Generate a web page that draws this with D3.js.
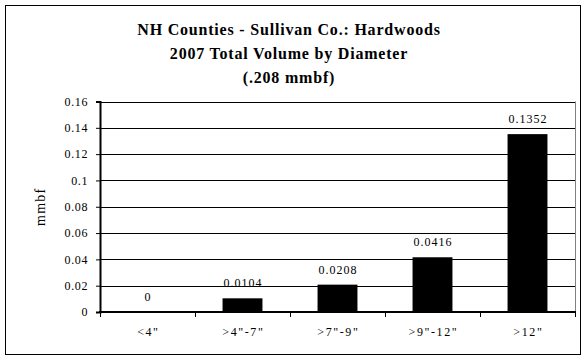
<!DOCTYPE html>
<html><head><meta charset="utf-8">
<script src="https://cdn.jsdelivr.net/npm/d3@7"></script>
<style>body{margin:0;background:#fff}svg{display:block}</style>
</head><body><svg id="c" width="585" height="360"></svg>
<script>
const categories = ['<4"', '>4"-7"', '>7"-9"', '>9"-12"', '>12"'];
const values = [0, 0.0104, 0.0208, 0.0416, 0.1352];
const labels = ["0", "0.0104", "0.0208", "0.0416", "0.1352"];
const yTicks = [0, 0.02, 0.04, 0.06, 0.08, 0.1, 0.12, 0.14, 0.16];
const titleLines = ["NH Counties - Sullivan Co.: Hardwoods", "2007 Total Volume by Diameter", "(.208 mmbf)"];

const svg = d3.select("#c");
const font = "'Liberation Serif', 'Times New Roman', serif";
svg.append("rect").attr("x", 5.5).attr("y", 5.5).attr("width", 575).attr("height", 349)
  .attr("fill", "#fff").attr("stroke", "#000").attr("stroke-width", 1);

const m = {l: 100, r: 575, t: 101.5, b: 312};
const x = d3.scaleBand().domain(categories).range([m.l, m.r]).paddingInner(0.58).paddingOuter(0.29);
const xb = d3.scalePoint().domain(d3.range(categories.length + 1)).range([m.l, m.r]);
const y = d3.scaleLinear().domain([0, 0.16]).range([m.b, m.t]);

// gridlines
svg.append("g").selectAll("line").data(yTicks.filter(d => d > 0)).join("line")
  .attr("x1", m.l).attr("x2", m.r).attr("y1", d => Math.round(y(d)) + 0.5).attr("y2", d => Math.round(y(d)) + 0.5)
  .attr("stroke", "#000").attr("stroke-width", 1);
// right border of plot
svg.append("line").attr("x1", m.r + 0.5).attr("x2", m.r + 0.5).attr("y1", y(0.16)).attr("y2", m.b)
  .attr("stroke", "#808080");

// bars
svg.append("g").selectAll("rect").data(values).join("rect")
  .attr("x", (d, i) => x(categories[i])).attr("width", x.bandwidth())
  .attr("y", d => y(d)).attr("height", d => m.b - y(d)).attr("fill", "#000");

// data labels
svg.append("g").selectAll("text").data(values).join("text")
  .attr("x", (d, i) => x(categories[i]) + x.bandwidth() / 2 + 0.5).attr("y", d => y(d) - 11)
  .attr("text-anchor", "middle").attr("font-family", font).attr("font-size", 12)
  .attr("letter-spacing", 1).text((d, i) => labels[i]);

// y axis
const ya = svg.append("g").attr("transform", `translate(${m.l},0)`)
  .call(d3.axisLeft(y).tickValues(yTicks).tickSize(4).tickFormat(d => d3.format("")(+d.toFixed(2))));
ya.select(".domain").attr("stroke", "#000").attr("stroke-width", 2);
ya.selectAll(".tick line").attr("stroke", "#000");
ya.selectAll("text").attr("font-family", font).attr("font-size", 12).attr("fill", "#000")
  .attr("letter-spacing", 0.6).attr("x", -12);

// x axis
const xa = svg.append("g").attr("transform", `translate(0,${m.b})`);
xa.append("line").attr("x1", m.l - 1).attr("x2", m.r + 1).attr("stroke", "#000").attr("stroke-width", 2);
xa.selectAll("line.t").data(d3.range(categories.length + 1)).join("line").attr("class", "t")
  .attr("x1", d => Math.round(xb(d)) + 0.5).attr("x2", d => Math.round(xb(d)) + 0.5).attr("y1", 0).attr("y2", 5)
  .attr("stroke", "#000");
xa.selectAll("text").data(categories).join("text")
  .attr("x", d => x(d) + x.bandwidth() / 2 + 0.9).attr("y", 24).attr("text-anchor", "middle")
  .attr("font-family", font).attr("font-size", 12).attr("letter-spacing", 1.6).text(d => d);

// y axis title
svg.append("text").attr("transform", `translate(45,${(m.t + m.b) / 2}) rotate(-90)`)
  .attr("text-anchor", "middle").attr("font-family", font).attr("font-size", 14)
  .attr("letter-spacing", 1.2).text("mmbf");

// title
svg.append("g").selectAll("text").data(titleLines).join("text")
  .attr("x", 289).attr("y", (d, i) => 35 + i * 24).attr("text-anchor", "middle")
  .attr("font-family", font).attr("font-weight", "bold").attr("font-size", 16)
  .attr("letter-spacing", 0.8).text(d => d);
</script></body></html>
